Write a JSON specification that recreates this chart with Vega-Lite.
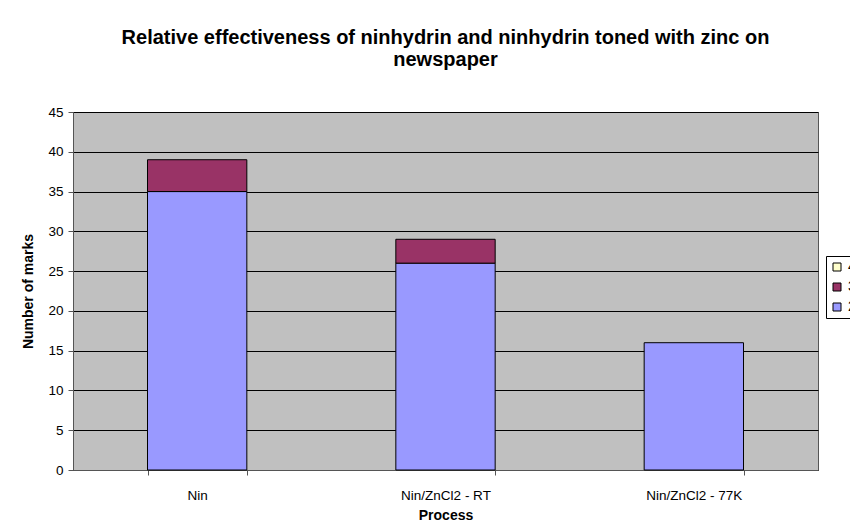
{
  "$schema": "https://vega.github.io/schema/vega-lite/v6.json",
  "autosize": {"type": "none"},
  "width": 745,
  "height": 358,
  "padding": {"left": 73, "top": 112, "right": 32, "bottom": 62},
  "background": "white",
  "title": {
    "text": ["Relative effectiveness of ninhydrin and ninhydrin toned with zinc on", "newspaper"],
    "font": "Liberation Sans",
    "fontSize": 20,
    "fontWeight": "bold",
    "color": "black",
    "anchor": "middle",
    "lineHeight": 22,
    "offset": 35
  },
  "data": {
    "values": [
      {"process": "Nin", "series": 2, "marks": 35},
      {"process": "Nin", "series": 3, "marks": 4},
      {"process": "Nin", "series": 4, "marks": 0},
      {"process": "Nin/ZnCl2 - RT", "series": 2, "marks": 26},
      {"process": "Nin/ZnCl2 - RT", "series": 3, "marks": 3},
      {"process": "Nin/ZnCl2 - RT", "series": 4, "marks": 0},
      {"process": "Nin/ZnCl2 - 77K", "series": 2, "marks": 16},
      {"process": "Nin/ZnCl2 - 77K", "series": 3, "marks": 0},
      {"process": "Nin/ZnCl2 - 77K", "series": 4, "marks": 0}
    ]
  },
  "transform": [{"filter": "datum.marks > 0"}],
  "mark": {"type": "bar", "stroke": "black", "strokeWidth": 1},
  "encoding": {
    "x": {
      "field": "process",
      "type": "nominal",
      "sort": ["Nin", "Nin/ZnCl2 - RT", "Nin/ZnCl2 - 77K"],
      "scale": {"paddingInner": 0.6, "paddingOuter": 0.3},
      "axis": {
        "title": "Process",
        "titleFont": "Liberation Sans",
        "titleFontSize": 14,
        "titleFontWeight": "bold",
        "titleColor": "black",
        "titlePadding": 7,
        "labelAngle": 0,
        "labelFont": "Liberation Sans",
        "labelFontSize": 13.5,
        "labelColor": "black",
        "labelPadding": 13,
        "tickBand": "extent",
        "tickColor": "#555555",
        "tickSize": 5,
        "domainColor": "#555555",
        "domainWidth": 1
      }
    },
    "y": {
      "field": "marks",
      "type": "quantitative",
      "stack": "zero",
      "scale": {"domain": [0, 45], "nice": false},
      "axis": {
        "title": "Number of marks",
        "titleFont": "Liberation Sans",
        "titleFontSize": 14,
        "titleFontWeight": "bold",
        "titleColor": "black",
        "titlePadding": 12,
        "values": [0, 5, 10, 15, 20, 25, 30, 35, 40, 45],
        "labelFont": "Liberation Sans",
        "labelFontSize": 13.5,
        "labelColor": "black",
        "labelPadding": 5,
        "tickColor": "#555555",
        "tickSize": 5,
        "domainColor": "#555555",
        "grid": true,
        "gridColor": "black",
        "gridWidth": 1
      }
    },
    "color": {
      "field": "series",
      "type": "nominal",
      "scale": {"domain": [4, 3, 2], "range": ["#FFFFCC", "#993366", "#9999FF"]},
      "legend": {
        "title": null,
        "orient": "none",
        "legendX": 753,
        "legendY": 144,
        "symbolType": "square",
        "symbolSize": 64,
        "symbolStrokeColor": "black",
        "symbolStrokeWidth": 1,
        "labelFont": "Liberation Sans",
        "labelFontSize": 14,
        "labelColor": "black",
        "labelOffset": 4,
        "rowPadding": 6,
        "padding": 4,
        "strokeColor": "black",
        "fillColor": "white"
      }
    },
    "order": {"field": "series", "type": "quantitative", "sort": "ascending"}
  },
  "config": {
    "view": {"fill": "#C0C0C0", "stroke": "#555555", "strokeWidth": 1}
  }
}
